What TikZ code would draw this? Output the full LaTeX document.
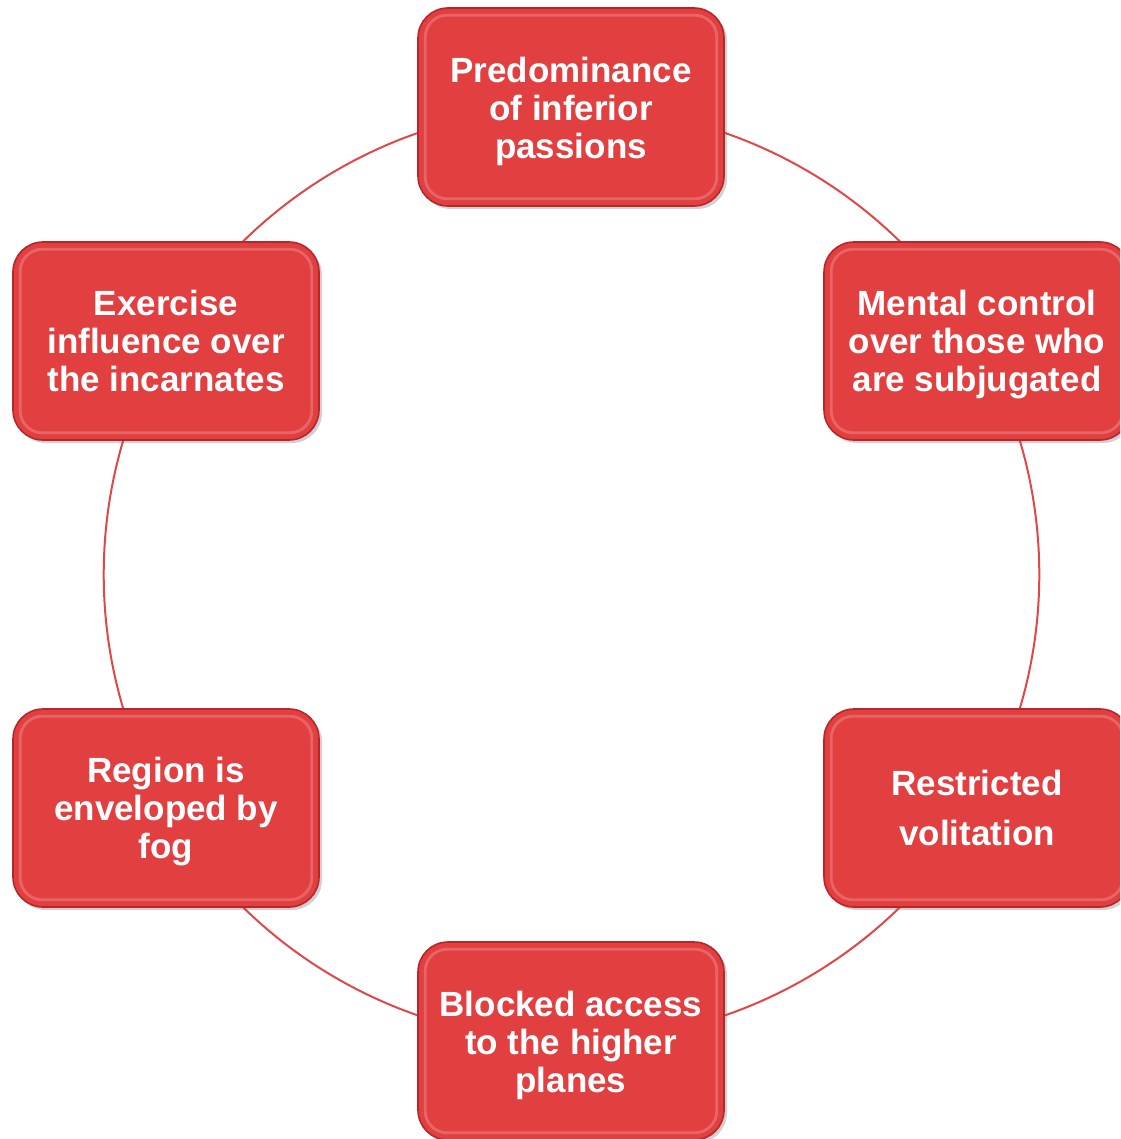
\documentclass[tikz,border=0pt]{standalone}
\usepackage{fontspec}
\setmainfont{Liberation Sans}
\usetikzlibrary{shadows,backgrounds}
\definecolor{boxred}{RGB}{226,63,65}
\definecolor{boxedge}{RGB}{185,38,42}
\definecolor{ringred}{RGB}{222,72,72}
\tikzset{
  box/.style={rectangle, rounded corners=15pt, fill=boxred, draw=boxedge, line width=0.8pt,
    minimum width=153pt, minimum height=99pt, inner sep=0pt,
    drop shadow={shadow xshift=1.5pt, shadow yshift=-1.5pt, opacity=0.3, fill=black!60}},
  txt/.style={align=center, text=white, inner sep=0pt,
    font=\fontsize{17.5}{19}\selectfont\bfseries},
  hl/.style={draw=white, draw opacity=0.2, line width=1.4pt, rounded corners=11pt},
  ring/.style={draw=ringred, line width=1pt, bend left=30, looseness=0.912}
}
\begin{document}
\begin{tikzpicture}[x=0.5pt,y=-0.5pt]
\useasboundingbox (0,0) rectangle (1120,1139);
\clip (0,0) rectangle (1120,1139);
\node[box] (n1) at (571,107) {};
\node[box] (n2) at (977,341) {};
\node[box] (n3) at (977,808) {};
\node[box] (n4) at (571,1041) {};
\node[box] (n5) at (166,808) {};
\node[box] (n6) at (166,341) {};
\foreach \n in {n1,n2,n3,n4,n5,n6}{
  \draw[hl] ([shift={(4pt,4pt)}]\n.south west) rectangle ([shift={(-4pt,-4pt)}]\n.north east);
}
\node[txt] (t1) at ([yshift=-2pt]n1.center) {Predominance\\of inferior\\passions};
\node[txt] (t2) at ([yshift=-2pt]n2.center) {Mental control\\over those who\\are subjugated};
\node[txt, font=\fontsize{17.5}{25}\selectfont\bfseries] (t3) at (n3.center) {Restricted\\volitation};
\node[txt] (t4) at ([yshift=-2pt]n4.center) {Blocked access\\to the higher\\planes};
\node[txt] (t5) at ([yshift=-2pt]n5.center) {Region is\\enveloped by\\fog};
\node[txt] (t6) at (n6.center) {Exercise\\influence over\\the incarnates};
\begin{pgfonlayer}{background}
\draw[ring] (n1.center) to (n2.center);
\draw[ring] (n2.center) to (n3.center);
\draw[ring] (n3.center) to (n4.center);
\draw[ring] (n4.center) to (n5.center);
\draw[ring] (n5.center) to (n6.center);
\draw[ring] (n6.center) to (n1.center);
\end{pgfonlayer}
\end{tikzpicture}
\end{document}
